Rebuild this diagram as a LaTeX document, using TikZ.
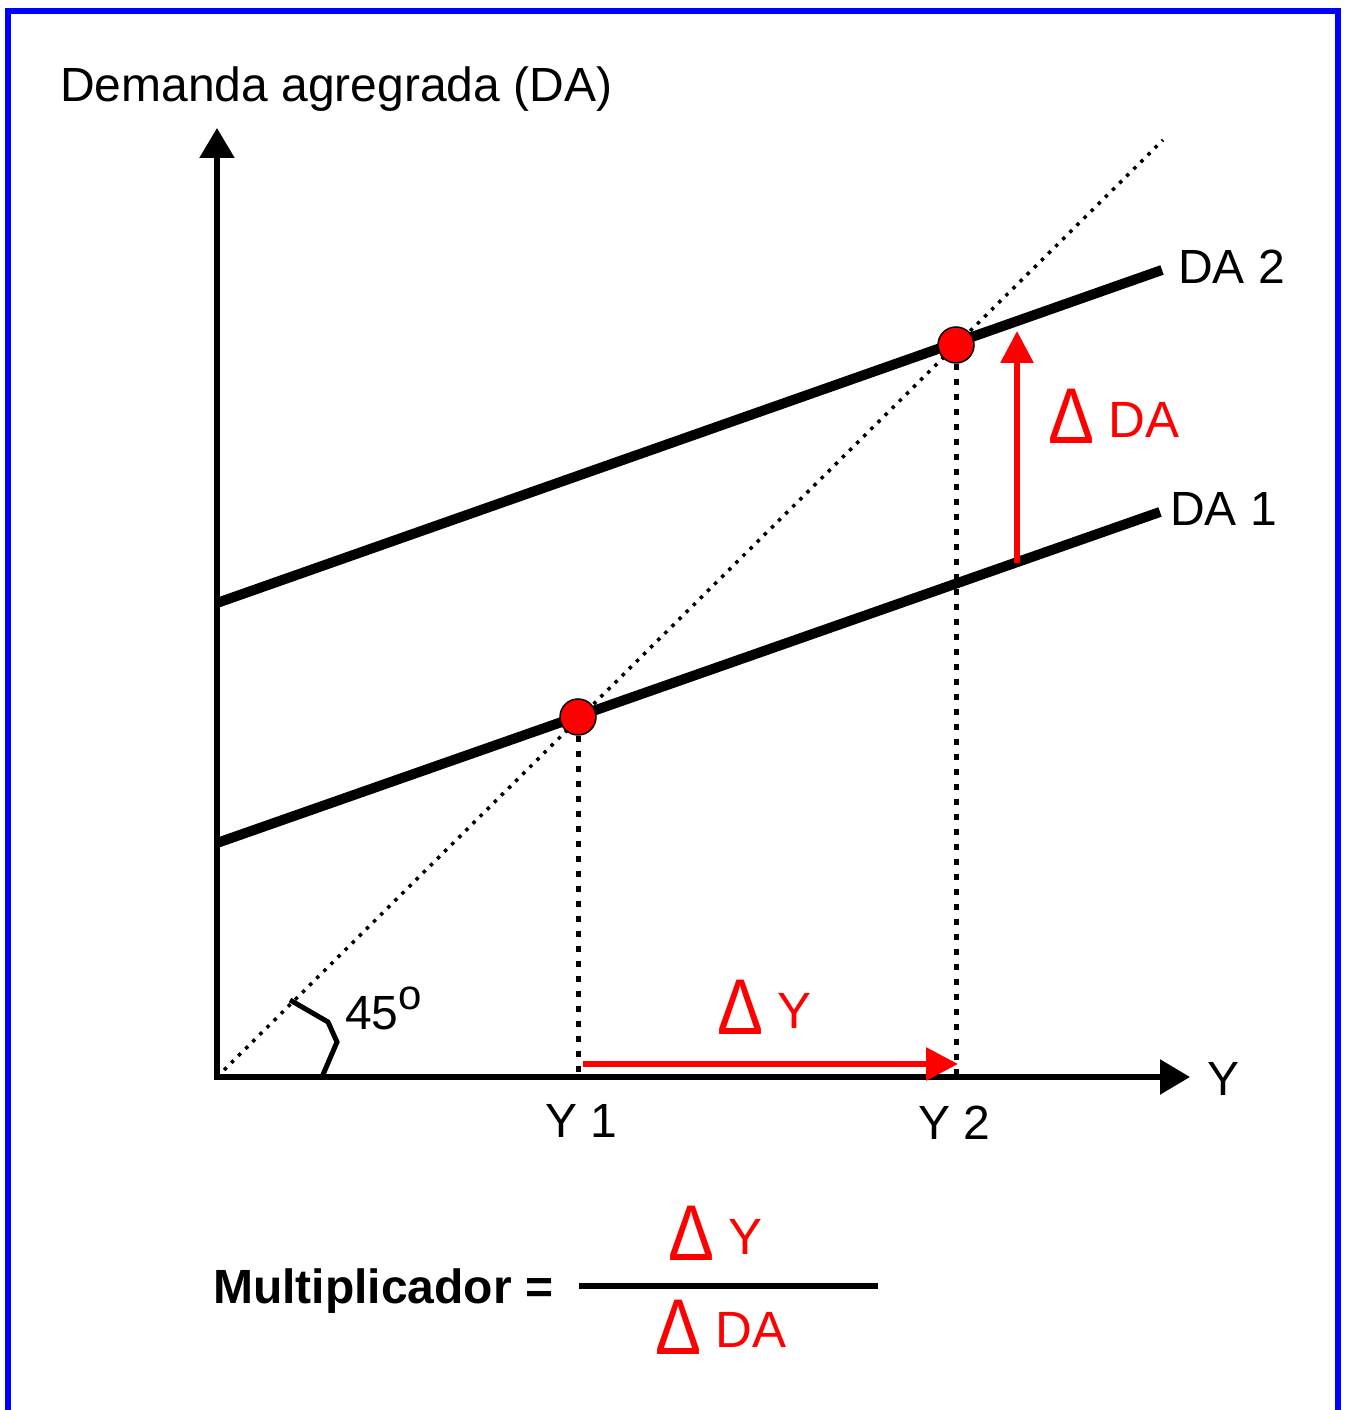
\documentclass[tikz,border=0pt]{standalone}
\usepackage{fontspec}
\setmainfont{Liberation Sans}
\usepackage{graphicx}
\usepackage{tikz}
\usetikzlibrary{arrows.meta}
\definecolor{rosso}{HTML}{FF0000}
\definecolor{blu}{HTML}{0000FF}
\newcommand{\dlt}{\raisebox{-6pt}{\scalebox{1.35}[1.55]{Δ}}}

\begin{document}
\begin{tikzpicture}[x=1pt,y=1pt,
    lbl/.style={font=\fontsize{48}{58}\selectfont, inner sep=0pt, anchor=base west},
    rlbl/.style={lbl, font=\fontsize{51}{60}\selectfont, text=rosso},
    curva/.style={line width=10pt},
    asse/.style={line width=5.5pt, -{Triangle[length=30pt,width=34pt]}},
    freccia/.style={line width=6pt, color=rosso, -{Triangle[length=32pt,width=32pt]}},
    punto/.style={circle, draw=black, line width=1.5pt, fill=rosso, minimum size=36pt, inner sep=0pt}]
        \useasboundingbox (0,0) rectangle (1348,1410);
        % cornice
        \draw[line width=6pt, color=blu] (8,-20) rectangle (1338,1399);
        \coordinate (O) at (217,333);
        \coordinate (Ytop) at (217,1282);
        \coordinate (Xend) at (1190,333);
        \coordinate (D45) at (1163,1270);
        \coordinate (A1s) at (217,567);
        \coordinate (A1e) at (1160,898);
        \coordinate (A2s) at (217,807);
        \coordinate (A2e) at (1162,1140);
        \coordinate (P1) at (578,333);
        \coordinate (P2) at (956,333);
        % bisettrice
        \draw[line width=3.5pt, dash pattern=on 3.5pt off 6.5pt] (O) -- (D45);
        % assi
        \draw[asse] (O) -- (Ytop);
        \draw[asse] ([xshift=-2.75pt]O) -- (Xend);
        % rette DA
        \draw[curva] (A1s) -- (A1e);
        \draw[curva] (A2s) -- (A2e);
        % equilibri
        \node[punto] (E1) at (578,693) {};
        \node[punto] (E2) at (956,1065) {};
        \draw[line width=5pt, dash pattern=on 6pt off 9pt] (E1) -- (P1);
        \draw[line width=5pt, dash pattern=on 6pt off 9pt] (E2) -- (P2);
        % variazioni
        \coordinate (dYs) at (583,346);
        \coordinate (dYe) at (958,346);
        \coordinate (dAs) at (1017,847);
        \coordinate (dAe) at (1017,1079);
        \draw[freccia] (dYs) -- (dYe);
        \draw[freccia] (dAs) -- (dAe);
        % angolo
        \coordinate (a1) at (290,410);
        \coordinate (a2) at (328,388);
        \coordinate (a3) at (337,368);
        \coordinate (a4) at (322,333);
        \draw[line width=5pt] (a1) -- (a2) -- (a3) -- (a4);
        % etichette
        \node[lbl] (titolo) at (60,1308) {Demanda agregrada (DA)};
        \node[lbl] (lDA2) at (1178,1126) {DA 2};
        \node[lbl] (lDA1) at (1170,884) {DA 1};
        \node[lbl] (lY) at (1207,314) {Y};
        \node[lbl] (lY1) at (545,272) {Y 1};
        \node[lbl] (lY2) at (918,270) {Y 2};
        \node[lbl] (l45) at (345,380) {45\raisebox{20pt}{\fontsize{42}{42}\selectfont o}};
        \node[rlbl] (ldY) at (717,381) {\dlt\ Y};
        \node[rlbl] (ldA) at (1048,972) {\dlt\ DA};
        % moltiplicatore
        \node[lbl, font=\fontsize{48}{58}\selectfont\bfseries] (molt) at (213,106) {Multiplicador =};
        \coordinate (f1) at (579,124);
        \coordinate (f2) at (878,124);
        \draw[line width=6pt] (f1) -- (f2);
        \node[rlbl] (num) at (668,155) {\dlt\ Y};
        \node[rlbl] (den) at (655,62) {\dlt\ DA};
    \end{tikzpicture}
\end{document}
